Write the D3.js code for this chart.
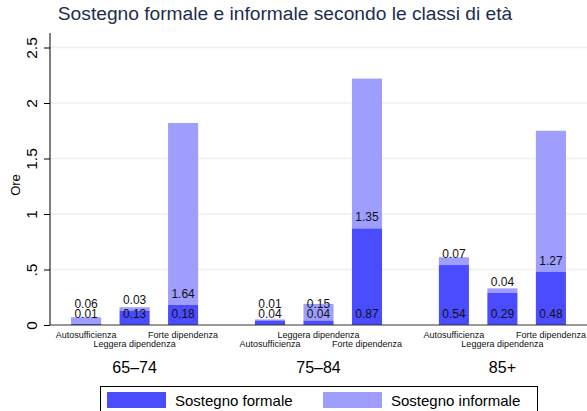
<!DOCTYPE html>
<html>
<head>
<meta charset="utf-8">
<script src="https://cdn.jsdelivr.net/npm/d3@7"></script>
<style>
  body { margin: 0; background: #fff; }
  svg { display: block; font-family: "Liberation Sans", Arial, Helvetica, sans-serif; }
</style>
</head>
<body>
<svg id="chart" width="587" height="411"></svg>
<script>
var groups = ['65\u201374', '75\u201384', '85+'];
var categories = ['Autosufficienza', 'Leggera dipendenza', 'Forte dipendenza'];
var formale = [
    [0.01, 0.13, 0.18],
    [0.04, 0.04, 0.87],
    [0.54, 0.29, 0.48]
];
var informale = [
    [0.06, 0.03, 1.64],
    [0.01, 0.15, 1.35],
    [0.07, 0.04, 1.27]
];
var yTicks = [0, 0.5, 1, 1.5, 2, 2.5];
var seriesNames = ['Sostegno formale', 'Sostegno informale'];

var colors = { formale: '#4b4bff', informale: '#9e9eff' };
// staggered rows for category labels (0 = top row, 1 = bottom row)
var labelRows = [[0, 1, 0], [1, 0, 1], [0, 1, 0]];

var W = 587, H = 411,
    plot = { left: 50, right: 587, top: 33, bottom: 325 };

var svg = d3.select('#chart');

var y = d3.scaleLinear().domain([0, 2.5]).range([plot.bottom, 47.5]);
var x0 = d3.scalePoint().domain(groups).range([plot.left, plot.right]).padding(0.46);
var x1 = d3.scaleBand().domain(categories).range([-72.75, 72.75])
    .paddingInner(0.38).paddingOuter(0.19);

// TITLE
//
svg.append('text')
    .attr('x', 285).attr('y', 20)
    .attr('text-anchor', 'middle')
    .attr('font-size', 19.2)
    .attr('fill', '#1e2d4f')
    .text('Sostegno formale e informale secondo le classi di et\u00e0');

// GRID
//
svg.append('g').selectAll('line')
    .data(yTicks.filter(function(d) { return d > 0; }))
    .enter().append('line')
    .attr('x1', plot.left).attr('x2', plot.right)
    .attr('y1', function(d) { return y(d); })
    .attr('y2', function(d) { return y(d); })
    .attr('stroke', '#eaf2f3')
    .attr('stroke-width', 1.5);

// Y AXIS
//
var yAxis = d3.axisLeft(y)
    .tickValues(yTicks)
    .tickSize(6)
    .tickPadding(0)
    .tickFormat(function(d) { return d === 0 ? '0' : d3.format('.1~f')(d).replace(/^0\./, '.'); });

var ya = svg.append('g')
    .attr('transform', 'translate(' + plot.left + ',0)')
    .call(yAxis);
ya.select('.domain').remove();
ya.selectAll('.tick line').attr('stroke', '#000');
ya.selectAll('.tick text')
    .attr('font-size', 15.5)
    .attr('fill', '#000')
    .attr('text-anchor', 'middle')
    .attr('x', 0).attr('y', 0).attr('dy', 0)
    .attr('transform', 'translate(-13.5,0) rotate(-90)');
ya.attr('font-family', null);

svg.append('line')
    .attr('x1', plot.left).attr('x2', plot.left)
    .attr('y1', plot.top).attr('y2', plot.bottom)
    .attr('stroke', '#000');

svg.append('text')
    .attr('transform', 'translate(19.5,185) rotate(-90)')
    .attr('text-anchor', 'middle')
    .attr('font-size', 13)
    .attr('fill', '#000')
    .text('Ore');

// BARS
//
var rows = [];
groups.forEach(function(g, gi) {
    categories.forEach(function(c, ci) {
        rows.push({ g: g, gi: gi, c: c, ci: ci, f: formale[gi][ci], i: informale[gi][ci] });
    });
});

var bar = svg.append('g').selectAll('g.bar')
    .data(rows)
    .enter().append('g')
    .attr('class', 'bar')
    .attr('transform', function(d) { return 'translate(' + (x0(d.g) + x1(d.c)) + ',0)'; });

bar.append('rect')
    .attr('y', function(d) { return y(d.f + d.i); })
    .attr('height', function(d) { return y(d.f) - y(d.f + d.i); })
    .attr('width', x1.bandwidth())
    .attr('fill', colors.informale);

bar.append('rect')
    .attr('y', function(d) { return y(d.f); })
    .attr('height', function(d) { return y(0) - y(d.f); })
    .attr('width', x1.bandwidth())
    .attr('fill', colors.formale);

// value labels, inside base of each segment
var fBase = function(d) { return y(0) - 7.5; };
bar.append('text')
    .attr('x', x1.bandwidth() / 2)
    .attr('y', fBase)
    .attr('text-anchor', 'middle')
    .attr('font-size', 12)
    .attr('fill', '#111')
    .text(function(d) { return d.f.toFixed(2); });

bar.append('text')
    .attr('x', x1.bandwidth() / 2)
    .attr('y', function(d) { return Math.min(y(d.f) - 7, fBase(d) - 9.5); })
    .attr('text-anchor', 'middle')
    .attr('font-size', 12)
    .attr('fill', '#111')
    .text(function(d) { return d.i.toFixed(2); });

// X AXIS
//
svg.append('line')
    .attr('x1', plot.left).attr('x2', plot.right)
    .attr('y1', plot.bottom).attr('y2', plot.bottom)
    .attr('stroke', '#333');

bar.append('text')
    .attr('x', x1.bandwidth() / 2)
    .attr('y', function(d) { return 337.5 + labelRows[d.gi][d.ci] * 9.7; })
    .attr('text-anchor', 'middle')
    .attr('font-size', 9)
    .attr('fill', '#111')
    .text(function(d) { return d.c; });

svg.append('g').selectAll('text')
    .data(groups)
    .enter().append('text')
    .attr('x', function(d) { return x0(d); })
    .attr('y', 373)
    .attr('text-anchor', 'middle')
    .attr('font-size', 16)
    .attr('fill', '#000')
    .text(function(d) { return d; });

// LEGEND
//
var legend = svg.append('g');
legend.append('rect')
    .attr('x', 100.5).attr('y', 386.5)
    .attr('width', 437).attr('height', 30)
    .attr('fill', '#fff')
    .attr('stroke', '#000');

var item = legend.selectAll('g.item')
    .data(seriesNames)
    .enter().append('g')
    .attr('class', 'item')
    .attr('transform', function(d, i) { return 'translate(' + (107 + i * 216) + ',392)'; });

item.append('rect')
    .attr('width', 59).attr('height', 16)
    .attr('fill', function(d, i) { return i === 0 ? colors.formale : colors.informale; });

item.append('text')
    .attr('x', 68).attr('y', 13.5)
    .attr('font-size', 15)
    .attr('fill', '#000')
    .text(function(d) { return d; });
</script>
</body>
</html>
